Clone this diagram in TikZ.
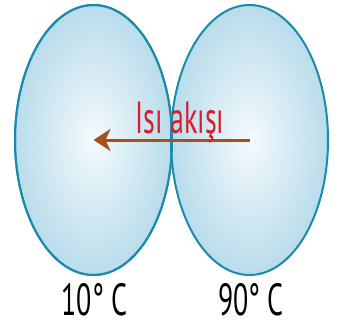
\documentclass[tikz,border=0pt]{standalone}
\usepackage{fontspec}
\usepackage{xcolor}
\usetikzlibrary{arrows.meta,shapes.geometric}
\newfontfamily\labelfont{PT Sans}[FakeStretch=0.62]
\definecolor{rim}{HTML}{1A8BAA}
\definecolor{body}{HTML}{B9DCEB}
\definecolor{core}{HTML}{F4FAFD}
\definecolor{rust}{HTML}{A5501E}
\definecolor{flowred}{HTML}{D4202E}

\begin{document}
\begin{tikzpicture}[x=1pt,y=-1pt,ball/.style={ellipse,draw=rim,line width=2pt,inner sep=0pt,minimum width=157pt,minimum height=270pt,shading=radial,inner color=core,outer color=body},temp/.style={font=\labelfont\fontsize{45}{45}\selectfont,text=black,inner sep=0pt,anchor=base},flow/.style={-{Stealth[length=17pt,width=22pt,inset=5pt]},draw=rust,line width=3pt}]
\useasboundingbox (0,0) rectangle (342,327);
\node[ball] (cold) at (93.5,140) {};
\node[ball] (hot) at (249.5,140) {};
% outlines again so both rims show where they meet
\draw[rim,line width=2pt] (cold.center) ellipse [x radius=78.5pt,y radius=135pt];
\draw[flow] (hot.center) -- (cold.center);
\node[temp,text=flowred] (label) at (180,133) {Isı akışı};
\node[temp] (coldtemp) at (94.5,315) {10° C};
\node[temp] (hottemp) at (251,315) {90° C};
\end{tikzpicture}
\end{document}
